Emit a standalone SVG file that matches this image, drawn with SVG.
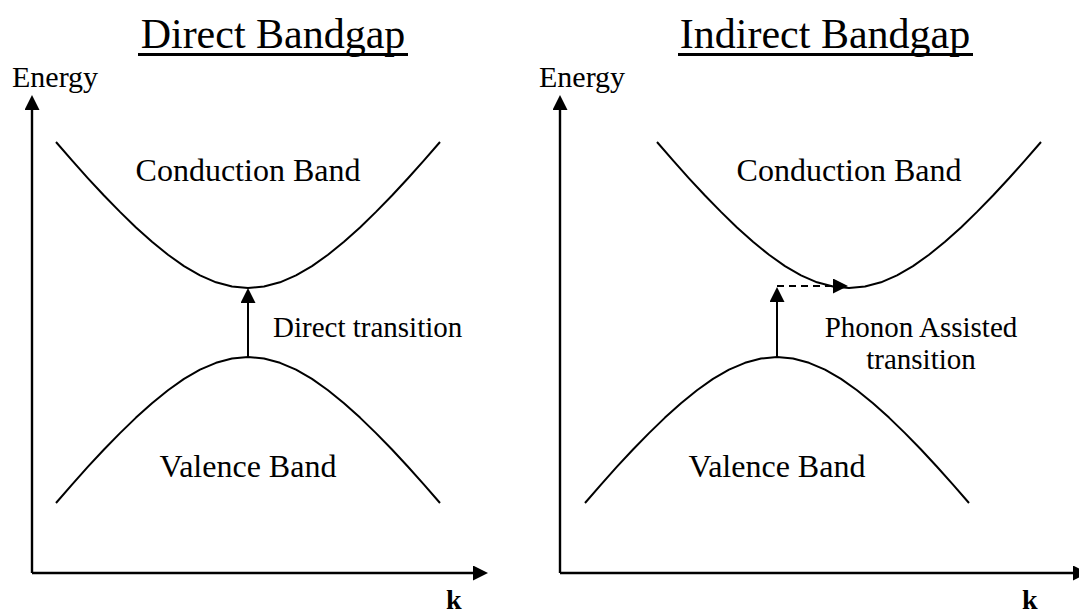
<svg xmlns="http://www.w3.org/2000/svg" width="1079" height="613" viewBox="0 0 1079 613">
<style>
text { font-family: "Liberation Serif", "Times New Roman", serif; fill: #000; }
.title { font-size: 42px; text-anchor: middle; }
.axislbl { font-size: 30px; }
.band { font-size: 32px; text-anchor: middle; }
.trans { font-size: 29px; }
.k { font-size: 28px; font-weight: bold; }
.curve { fill: none; stroke: #000; stroke-width: 2; stroke-linejoin: round; }
.axis { fill: none; stroke: #000; stroke-width: 2.4; }
.arr { fill: none; stroke: #000; stroke-width: 2; }
.dash { fill: none; stroke: #000; stroke-width: 2; stroke-dasharray: 7 5; }
.ul { stroke: #000; stroke-width: 3; }
</style>
<defs>
<marker id="ah" markerUnits="userSpaceOnUse" markerWidth="15" markerHeight="15" refX="7" refY="7.5" orient="auto" viewBox="0 0 15 15">
<path d="M0,0 L15,7.5 L0,15 Z" fill="#000"/>
</marker>
</defs>
<rect width="1079" height="613" fill="#fff"/>

<g id="direct-title">
<text class="title" x="273" y="48">Direct Bandgap</text>
<line class="ul" x1="138" y1="54.5" x2="408" y2="54.5"/>
</g>
<g id="indirect-title">
<text class="title" x="825" y="48">Indirect Bandgap</text>
<line class="ul" x1="678" y1="54.5" x2="973" y2="54.5"/>
</g>

<g id="direct-axes">
<text class="axislbl" x="12" y="87">Energy</text>
<text class="k" x="446" y="609">k</text>
</g>
<g id="indirect-axes">
<text class="axislbl" x="539" y="87">Energy</text>
<text class="k" x="1022" y="609">k</text>
</g>

<g id="direct-conduction">
<polyline class="curve" points="56,142.0 72,160.4 88,178.3 104,195.5 120,211.9 136,227.5 152,241.8 168,254.8 184,266.1 200,275.3 216,282.3 232,286.5 248,288 264,286.5 280,282.3 296,275.3 312,266.1 328,254.8 344,241.8 360,227.5 376,211.9 392,195.5 408,178.3 424,160.4 440,142.0"/>
<text class="band" x="248" y="181">Conduction Band</text>
</g>
<g id="direct-valence">
<polyline class="curve" points="56,503.0 72,484.6 88,466.7 104,449.5 120,433.1 136,417.6 152,403.2 168,390.2 184,378.9 200,369.7 216,362.8 232,358.5 248,357 264,358.5 280,362.8 296,369.7 312,378.9 328,390.2 344,403.2 360,417.6 376,433.1 392,449.5 408,466.7 424,484.6 440,503.0"/>
<text class="band" x="248" y="477">Valence Band</text>
</g>
<g id="direct-transition-label">
<text class="trans" x="273" y="337">Direct transition</text>
</g>

<g id="indirect-conduction">
<polyline class="curve" points="657,142.0 673,160.4 689,178.3 705,195.5 721,211.9 737,227.5 753,241.8 769,254.8 785,266.1 801,275.3 817,282.3 833,286.5 849,288 865,286.5 881,282.3 897,275.3 913,266.1 929,254.8 945,241.8 961,227.5 977,211.9 993,195.5 1009,178.3 1025,160.4 1041,142.0"/>
<text class="band" x="849" y="181">Conduction Band</text>
</g>
<g id="indirect-valence">
<polyline class="curve" points="585,503.0 601,484.6 617,466.7 633,449.5 649,433.1 665,417.6 681,403.2 697,390.2 713,378.9 729,369.7 745,362.8 761,358.5 777,357 793,358.5 809,362.8 825,369.7 841,378.9 857,390.2 873,403.2 889,417.6 905,433.1 921,449.5 937,466.7 953,484.6 969,503.0"/>
<text class="band" x="777" y="477">Valence Band</text>
</g>
<g id="indirect-transition-label">
<text class="trans" x="921" y="337" text-anchor="middle">Phonon Assisted</text>
<text class="trans" x="921" y="369" text-anchor="middle">transition</text>
</g>

<g id="connectors">
<line class="axis" x1="32" y1="573" x2="32" y2="103" marker-end="url(#ah)"/>
<line class="axis" x1="32" y1="573" x2="480" y2="573" marker-end="url(#ah)"/>
<line class="axis" x1="560" y1="573" x2="560" y2="103" marker-end="url(#ah)"/>
<line class="axis" x1="560" y1="573" x2="1080" y2="573" marker-end="url(#ah)"/>
<line class="arr" x1="248" y1="357" x2="248" y2="296" marker-end="url(#ah)"/>
<line class="arr" x1="777" y1="357" x2="777" y2="295" marker-end="url(#ah)"/>
<line class="dash" x1="777" y1="286" x2="840" y2="286" marker-end="url(#ah)"/>
</g>
</svg>
